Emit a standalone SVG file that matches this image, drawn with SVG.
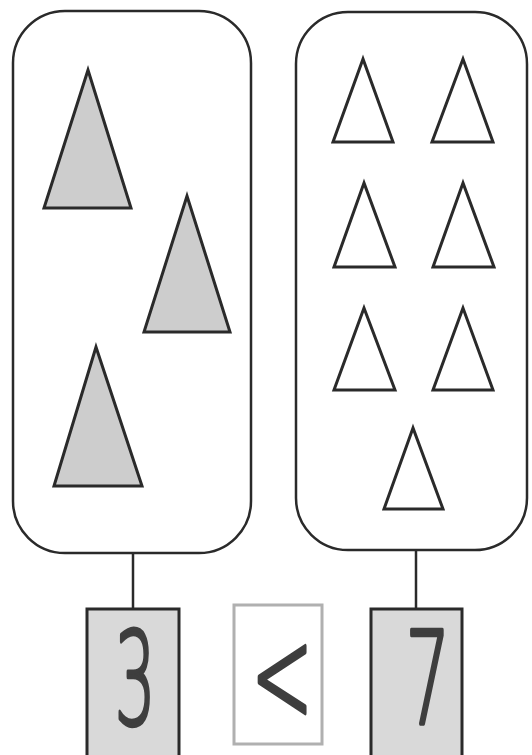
<svg xmlns="http://www.w3.org/2000/svg" width="532" height="755" viewBox="0 0 532 755">
<style>
.box{fill:#fff;stroke:#2a2a2a;stroke-width:2.5}
.tg{fill:#cdcdcd;stroke:#2a2a2a;stroke-width:3;stroke-linejoin:miter}
.tw{fill:#fff;stroke:#2a2a2a;stroke-width:3}
.num{fill:#d9d9d9;stroke:#2a2a2a;stroke-width:3}
.sym{fill:#fff;stroke:#b0b0b0;stroke-width:3}
.conn{stroke:#2a2a2a;stroke-width:2.5;fill:none}
.hand{font-family:"DejaVu Sans","Liberation Sans",sans-serif;font-weight:200;fill:#3e3e3e;stroke:#3e3e3e;stroke-width:3.5;stroke-linejoin:round;vector-effect:non-scaling-stroke;text-anchor:middle}
</style>
<rect width="532" height="755" fill="#fff"/>
<g id="connectors">
<line class="conn" x1="133" y1="553" x2="133" y2="609"/>
<line class="conn" x1="416" y1="550" x2="416" y2="609"/>
</g>
<g id="set-left">
<rect class="box" x="13" y="11" width="238" height="542" rx="52" ry="52"/>
<polygon class="tg" points="88,70 44,208 131,208"/>
<polygon class="tg" points="187,196 144,332 230,332"/>
<polygon class="tg" points="96,347 54,486 142,486"/>
</g>
<g id="set-right">
<rect class="box" x="296" y="12" width="231" height="538" rx="52" ry="52"/>
<polygon class="tw" points="363,59 333,142 393,142"/>
<polygon class="tw" points="463,59 432,142 493,142"/>
<polygon class="tw" points="364,183 334,267 395,267"/>
<polygon class="tw" points="463,183 433,267 494,267"/>
<polygon class="tw" points="364,308 334,390 395,390"/>
<polygon class="tw" points="463,308 433,390 493,390"/>
<polygon class="tw" points="413,428 384,509 443,509"/>
</g>
<g id="count-left">
<rect class="num" x="87" y="609" width="92" height="150"/>
<text class="hand" transform="translate(135,724) scale(0.5,1)" font-size="128">3</text>
</g>
<g id="compare">
<rect class="sym" x="234" y="605" width="88" height="139"/>
<text class="hand" transform="translate(282,722) scale(0.55,1)" font-size="135">&lt;</text>
</g>
<g id="count-right">
<rect class="num" x="371" y="609" width="91" height="150"/>
<text class="hand" transform="translate(428,724) scale(0.55,1)" font-size="128">7</text>
</g>
</svg>
